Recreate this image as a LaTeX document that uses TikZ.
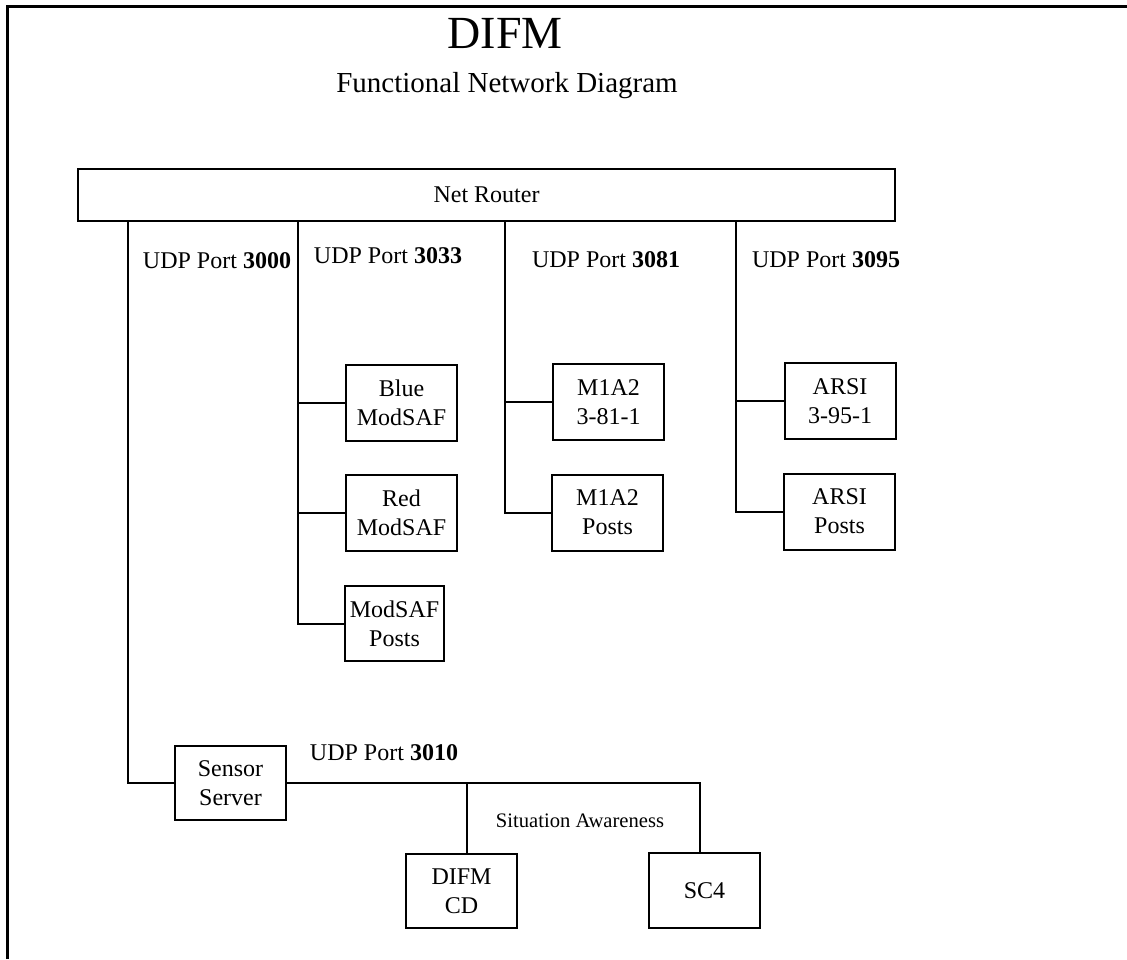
\documentclass[tikz,border=0pt]{standalone}
\usepackage{fontspec}
\setmainfont{Liberation Serif}
\begin{document}
\begin{tikzpicture}[x=0.5pt,y=-0.5pt,
  line width=1pt,
  box/.style={draw, line width=1pt, minimum width=55.5pt, minimum height=38pt, inner sep=0pt,
    align=center, font=\fontsize{12}{14.5}\selectfont},
  lbl/.style={anchor=base, inner sep=0pt, font=\fontsize{12}{14.5}\selectfont},
  frame/.style={line width=1.5pt}]
\useasboundingbox (0,0) rectangle (1127,959);
% frame (top and left edges only visible)
\coordinate (fbl) at (7,959);
\coordinate (ftl) at (7,6);
\coordinate (ftr) at (1127,6);
\draw[frame] (fbl) -- (ftl) -- (ftr);
% titles
\node[anchor=base, inner sep=0pt, font=\fontsize{23}{26}\selectfont] (title) at (505,48) {DIFM};
\node[anchor=base, inner sep=0pt, font=\fontsize{14.5}{17}\selectfont] (subtitle) at (507,92) {Functional Network Diagram};
% router
\node[box, minimum width=408.5pt, minimum height=26pt] (router) at (486.5,195) {Net Router};
% boxes
\node[box] (blue) at (401.5,403) {Blue\\ModSAF};
\node[box] (red) at (401.5,513) {Red\\ModSAF};
\node[box, minimum width=49.5pt, minimum height=37.5pt] (mpost) at (394.5,623.5) {ModSAF\\Posts};
\node[box] (m1a) at (608.5,402) {M1A2\\3-81-1};
\node[box] (m1p) at (607.5,512.5) {M1A2\\Posts};
\node[box] (arsia) at (840,401) {ARSI\\3-95-1};
\node[box] (arsip) at (839.5,511.5) {ARSI\\Posts};
\node[box, minimum height=37pt] (sensor) at (230.5,783) {Sensor\\Server};
\node[box, minimum height=37pt] (difmcd) at (461.5,891) {DIFM\\CD};
\node[box, minimum height=37.5pt] (sc4) at (704.5,890.5) {SC4};
% port labels
\node[lbl] (l3000) at (217,268) {UDP Port \textbf{3000}};
\node[lbl] (l3033) at (388,263) {UDP Port \textbf{3033}};
\node[lbl] (l3081) at (606,267) {UDP Port \textbf{3081}};
\node[lbl] (l3095) at (826,267) {UDP Port \textbf{3095}};
\node[lbl] (l3010) at (384,760) {UDP Port \textbf{3010}};
\node[anchor=base, inner sep=0pt, font=\fontsize{10.3}{12}\selectfont] (sa) at (580,827) {Situation Awareness};
% tap points on router
\coordinate (c3000) at (128,221);
\coordinate (c3033) at (297.5,221);
\coordinate (c3081) at (505,221);
\coordinate (c3095) at (736,221);
% connectors
\draw (c3000) |- (sensor.west);
\draw (c3033) |- (mpost.west);
\draw (c3033 |- blue.west) -- (blue.west);
\draw (c3033 |- red.west) -- (red.west);
\draw (c3081) |- (m1p.west);
\draw (c3081 |- m1a.west) -- (m1a.west);
\draw (c3095) |- (arsip.west);
\draw (c3095 |- arsia.west) -- (arsia.west);
\draw (sensor.east) -| ([xshift=-2.5pt]sc4.north);
\draw ([xshift=2.5pt]difmcd.north |- sensor.east) -- ([xshift=2.5pt]difmcd.north);
\end{tikzpicture}
\end{document}
